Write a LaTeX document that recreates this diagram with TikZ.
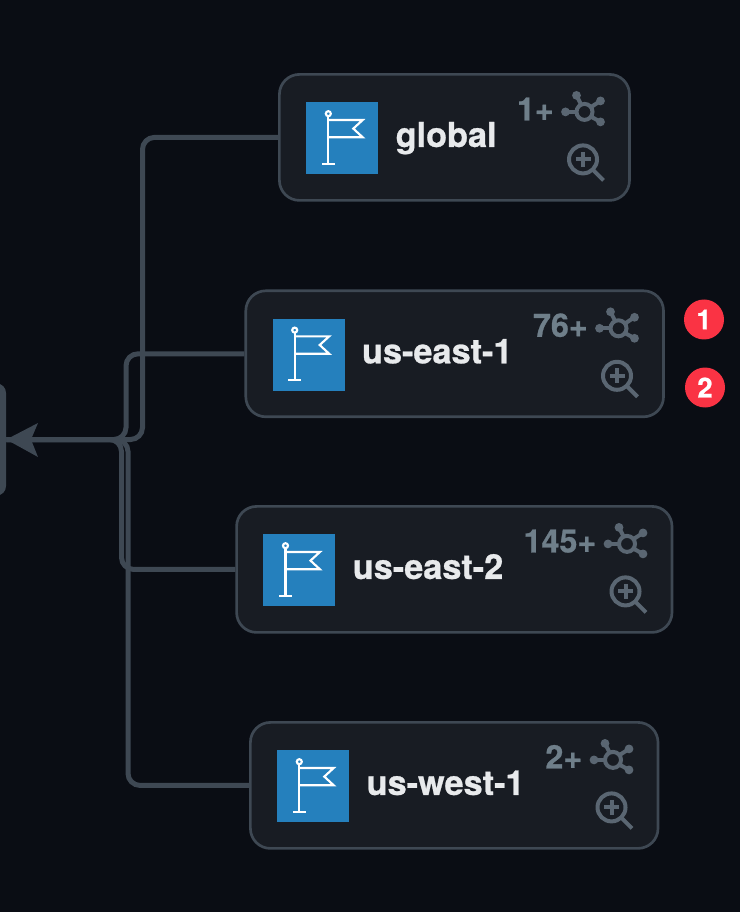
\documentclass[tikz,border=0pt]{standalone}
\usepackage{fontspec}
\setmainfont[BoldFeatures={FakeBold=0.8}]{TeX Gyre Heros}
\usetikzlibrary{arrows.meta}
\definecolor{bgc}{HTML}{0A0D14}
\definecolor{cardc}{HTML}{181C23}
\definecolor{edgec}{HTML}{3E4853}
\definecolor{countc}{HTML}{6F7F8A}
\definecolor{iconc}{HTML}{5A6672}
\definecolor{blueb}{HTML}{2580BD}
\definecolor{labelc}{HTML}{E8EAEC}
\definecolor{badgec}{HTML}{FA3344}
\tikzset{
  x=0.75pt,y=-0.75pt,
  regionbox/.style={draw=edgec,fill=cardc,line width=2pt,rounded corners=15pt,inner sep=0pt},
  flagbox/.style={fill=blueb,minimum width=54pt,minimum height=54pt,inner sep=0pt,anchor=north west},
  flagline/.style={draw=white,line width=1.6pt},
  regionlabel/.style={font=\bfseries\fontsize{25.7pt}{30pt}\selectfont,text=labelc,anchor=base west,inner sep=0pt},
  countlabel/.style={font=\bfseries\fontsize{24.2pt}{28pt}\selectfont,text=countc,anchor=base east,inner sep=0pt},
  iconline/.style={draw=iconc,line width=3pt},
  icondot/.style={fill=iconc},
  conn/.style={draw=edgec,line width=3.75pt,rounded corners=9pt},
  badge/.style={circle,fill=badgec,text=white,minimum size=30pt,inner sep=0pt,font=\bfseries\fontsize{20.5pt}{24pt}\selectfont},
}
% name, left, top, right, label, count
\newcommand{\regioncard}[6]{%
  \node[regionbox,minimum width={(#4-#2)*0.75pt},minimum height=94.5pt] (#1) at ({(#2+#4)/2},#3+64) {};
  \node[flagbox] (#1flag) at (#2+26.6,#3+28.6) {};
  \begin{scope}[shift={(#2+26.6,#3+28.6)}]
    \draw[flagline] (22.3,14.2) -- (22.3,62);
    \draw[flagline] (16,62) -- (28.7,62);
    \draw[flagline] (22.3,11.7) circle (2.5);
    \draw[flagline] (22.3,18) -- (56.7,18) -- (47.3,26.6) -- (56.7,35.3) -- (22.3,35.3);
  \end{scope}
  \node[regionlabel] (#1label) at (#2+116,#3+73.5) {#5};
  \node[countlabel] (#1count) at (#4-75.5,#3+47) {#6};
  \begin{scope}[shift={(#4,#3)}]
    \draw[iconline] (-45,38.5) circle (8);
    \draw[iconline] (-53,22) -- (-48,32);
    \draw[iconline] (-29,27.5) -- (-39,34);
    \draw[iconline] (-29,48.5) -- (-39,43);
    \draw[iconline] (-64,38.5) -- (-52,38.5);
    \fill[icondot] (-53,22) circle (4.4);
    \fill[icondot] (-29,27.5) circle (4.4);
    \fill[icondot] (-29,48.5) circle (4.4);
    \fill[icondot] (-64,38.5) circle (4.4);
    \draw[iconline] (-46.5,86) circle (14);
    \draw[iconline] (-36.5,96.5) -- (-26,107);
    \draw[iconline] (-54,86) -- (-39,86);
    \draw[iconline] (-46.5,78.5) -- (-46.5,93.5);
  \end{scope}
}
\begin{document}
\begin{tikzpicture}
  \useasboundingbox (0,0) rectangle (740,912);
  \fill[bgc] (0,0) rectangle (740,912);
  \regioncard{global}{279.4}{73.4}{629.5}{global}{1+}
  \regioncard{east}{245.8}{289.8}{663.5}{us-east-1}{76+}
  \regioncard{eastb}{236.6}{505.4}{672}{us-east-2}{145+}
  \regioncard{west}{250.4}{721.4}{658}{us-west-1}{2+}
  \begin{scope}
    \clip (0,0) rectangle (740,912);
    \node[draw=none,fill=edgec,rounded corners=7pt,minimum width=24pt,minimum height=84pt,inner sep=0pt] (hub) at (-10,439.5) {};
  \end{scope}
  \draw[conn] (global.west) -- (142.5,0 |- global.west) -- (142.5,0 |- hub.east) -- (hub.east);
  \draw[conn] (east.west) -- (126,0 |- east.west) -- (126,0 |- hub.east) -- (hub.east);
  \draw[conn] (eastb.west) -- (121.5,0 |- eastb.west) -- (121.5,0 |- hub.east) -- (hub.east);
  \draw[conn] (west.west) -- (128,0 |- west.west) -- (128,0 |- hub.east) -- (hub.east);
  \draw[draw=none,fill=edgec] (hub.east) -- (38,423) -- (31,439.5) -- (38,457) -- cycle;
  \node[badge] (b1) at (704,319.5) {1};
  \node[badge] (b2) at (705,387.5) {2};
\end{tikzpicture}
\end{document}
